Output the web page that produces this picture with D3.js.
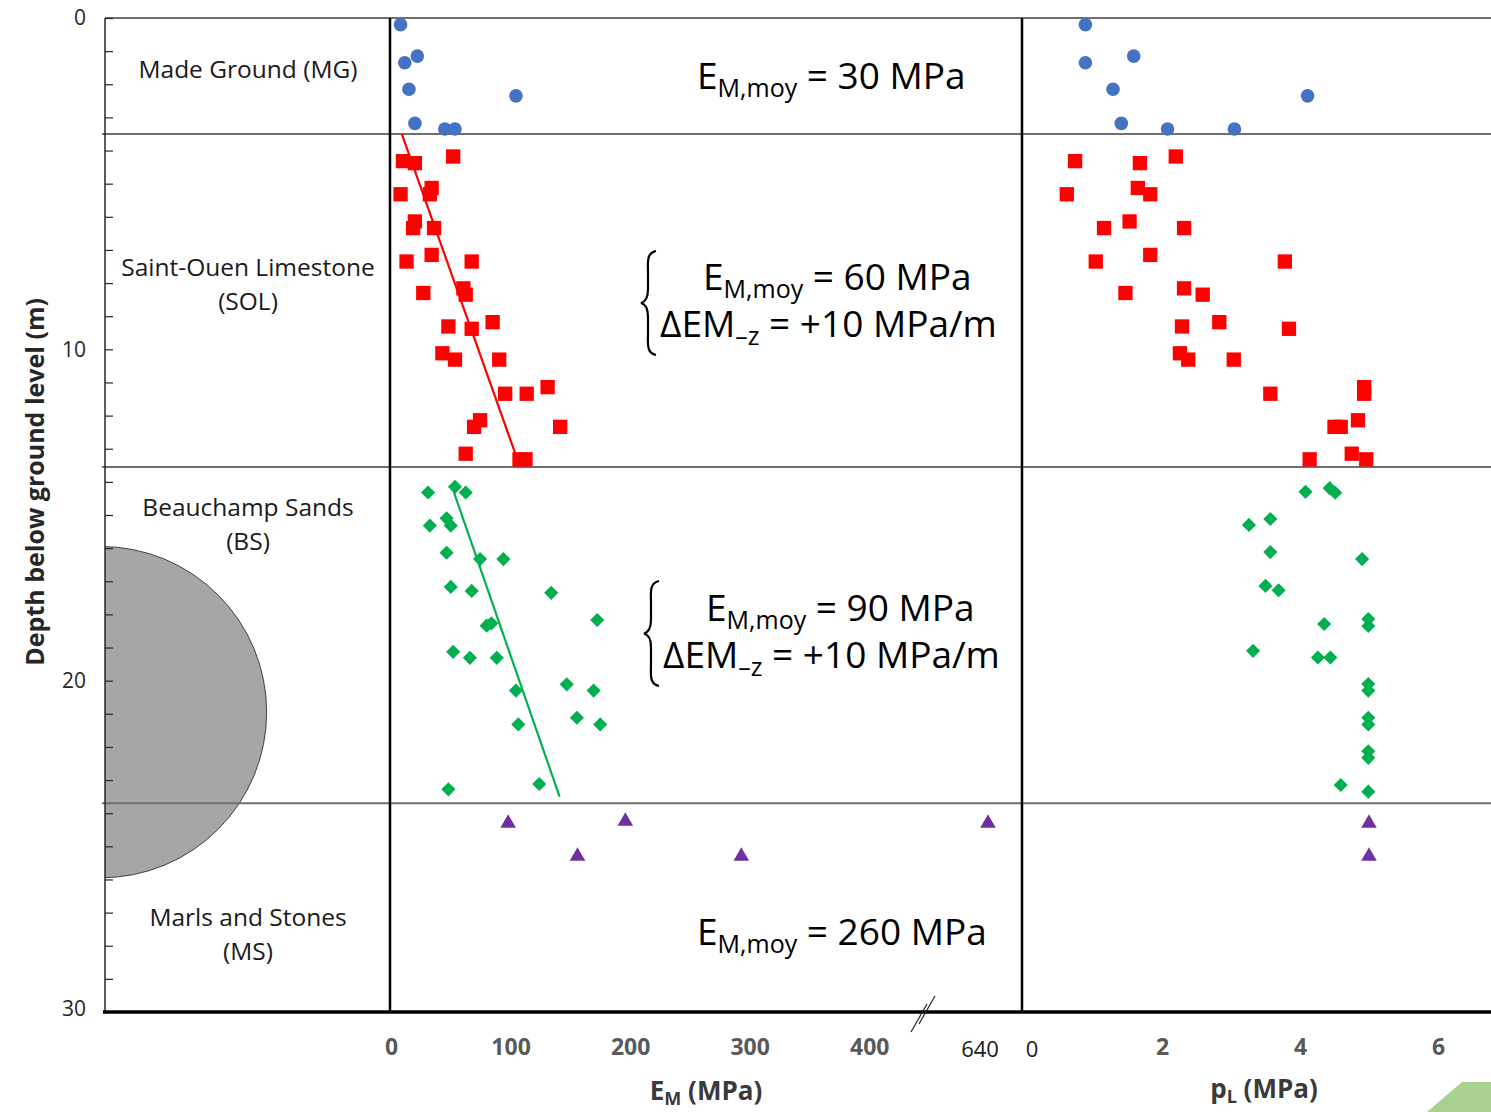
<!DOCTYPE html>
<html>
<head>
<meta charset="utf-8">
<script src="https://cdn.jsdelivr.net/npm/d3@7"></script>
<style>
  body { margin: 0; background: #fff; }
  text { font-family: "Open Sans", sans-serif; }
</style>
</head>
<body>
<svg id="chart"></svg>
<script>
// depth (m) / EM (MPa) / pL (MPa)
const mgDepth = [0.2, 1.15, 1.35, 2.15, 2.35, 3.18, 3.35, 3.35]
const mgEM = [8, 22, 11.5, 15, 104.5, 20, 45, 53.5]
const mgPL = [0.89, 1.59, 0.89, 1.29, 4.11, 1.41, 2.08, 3.05]

const solDepth = [4.18, 4.32, 4.38, 5.13, 5.32, 5.32, 6.14, 6.34, 6.34, 7.15, 7.35, 7.35, 8.16, 8.3, 8.35,
    9.18, 9.31, 9.38, 10.12, 10.31, 10.31, 11.14, 11.34, 11.34, 12.14, 12.34, 12.34, 13.15, 13.32, 13.32]
const solEM = [52, 10, 20, 34, 8, 32.5, 20, 18.5, 36, 34, 13, 67.5, 60.5, 27, 62.5,
    85, 48, 67.5, 43, 53.5, 90.5, 131, 95.5, 113.5, 74.5, 69.5, 141.5, 62.5, 107.5, 112.5]
const solPL = [2.2, 0.74, 1.68, 1.65, 0.62, 1.83, 1.53, 1.16, 2.32, 1.83, 1.04, 3.78, 2.32, 1.47, 2.59,
    2.83, 2.29, 3.84, 2.26, 2.38, 3.04, 4.93, 3.57, 4.93, 4.84, 4.5, 4.59, 4.75, 4.14, 4.96]

const bsDepthEM = [14.15, 14.32, 14.32, 15.1, 15.32, 15.32, 16.14, 16.33, 16.33, 17.17, 17.29, 17.35, 18.17,
    18.27, 18.34, 19.13, 19.31, 19.31, 20.11, 20.3, 20.3, 21.12, 21.32, 21.32, 23.12, 23.28]
const bsEM = [53.5, 31, 62.5, 46.5, 32.5, 50, 46.5, 74.5, 94, 50, 67.5, 134, 172.5,
    84, 80, 52, 66, 88.5, 147, 104.5, 169.5, 155.5, 106.5, 175, 124, 48]
const bsDepthPL = [14.19, 14.3, 14.33, 15.12, 15.3, 16.12, 16.33, 17.14, 17.27, 18.14, 18.29, 18.35,
    19.1, 19.3, 19.3, 20.1, 20.3, 21.12, 21.32, 22.13, 22.33, 23.15, 23.35]
const bsPL = [4.43, 4.08, 4.51, 3.57, 3.26, 3.57, 4.9, 3.5, 3.69, 4.99, 4.35, 4.99,
    3.32, 4.26, 4.44, 4.99, 4.99, 4.99, 4.99, 4.99, 4.99, 4.59, 4.99]

const msDepthEM = [24.3, 24.24, 24.3, 25.3, 25.3]
const msEM = [98, 196, 640, 156, 293]
const msDepthPL = [24.3, 25.3]
const msPL = [5, 5]

const solTrendDepth = [3.5, 13.25]
const solTrendEM = [9, 105]
const bsTrendDepth = [14.3, 23.5]
const bsTrendEM = [52.5, 141]

const layerBounds = [3.5, 13.55, 23.7]
const depthLabels = [0, 10, 20, 30]
const emTicks = [0, 100, 200, 300, 400]
const emBreakTick = 640
const plTicks = [2, 4, 6]

const layerNames = [
    { lines: ["Made Ground (MG)"], y: 70 },
    { lines: ["Saint-Ouen Limestone", "(SOL)"], y: 268 },
    { lines: ["Beauchamp Sands", "(BS)"], y: 508 },
    { lines: ["Marls and Stones", "(MS)"], y: 918 }
]

const width = 1491
const height = 1112

const svg = d3.select("#chart").attr("width", width).attr("height", height)

const y = d3.scaleLinear().domain([0, 30]).range([18, 1012])
const xE = d3.scaleLinear().domain([0, 450, 640]).range([391, 929, 988])
const xP = d3.scaleLinear().domain([0, 6]).range([1024, 1438])

const leftX = 105

// tunnel section
svg.append("clipPath").attr("id", "clip")
    .append("rect").attr("x", leftX).attr("y", 0).attr("width", width).attr("height", height)

svg.append("circle")
    .attr("cx", leftX - 4)
    .attr("cy", y(20.95))
    .attr("r", y(5) - y(0))
    .attr("fill", "#a6a6a6")
    .attr("stroke", "#404040")
    .attr("stroke-width", 1)
    .attr("clip-path", "url(#clip)")

// frame lines
svg.append("line")
    .attr("x1", leftX).attr("x2", width).attr("y1", y(0)).attr("y2", y(0))
    .attr("stroke", "#404040").attr("stroke-width", 1.5)

svg.selectAll(".layer")
    .data(layerBounds)
    .enter()
    .append("line")
    .attr("class", "layer")
    .attr("x1", leftX - 3).attr("x2", width)
    .attr("y1", d => y(d)).attr("y2", d => y(d))
    .attr("stroke", "#6f6f6f").attr("stroke-width", 2)

svg.append("line")
    .attr("x1", leftX).attr("x2", leftX).attr("y1", y(0)).attr("y2", y(30))
    .attr("stroke", "#262626").attr("stroke-width", 1.5)

let yAxis = d3.axisLeft(y)
    .tickValues(d3.range(0, 31))
    .tickSizeInner(-8)
    .tickSizeOuter(0)
    .tickPadding(19)
    .tickFormat(d => depthLabels.includes(d) ? d : "")

let yAxisG = svg.append("g")
    .attr("transform", "translate(" + leftX + ",0)")
    .call(yAxis)
yAxisG.select(".domain").remove()
yAxisG.selectAll("line").attr("stroke", "#262626").attr("stroke-width", 1.2)
yAxisG.selectAll("text")
    .style("font-family", "Open Sans")
    .style("font-size", "21px")
    .attr("fill", "#262626")
    .attr("dy", d => d === 30 ? "0.15em" : "0.32em")

svg.append("text")
    .attr("transform", "translate(44," + y(14) + ") rotate(-90)")
    .attr("text-anchor", "middle")
    .style("font-size", "25px")
    .style("font-weight", "bold")
    .attr("fill", "#262626")
    .text("Depth below ground level (m)")

// panel axes
svg.append("line")
    .attr("x1", xE(0) - 1).attr("x2", xE(0) - 1).attr("y1", y(0)).attr("y2", y(30))
    .attr("stroke", "#000").attr("stroke-width", 2.5)
svg.append("line")
    .attr("x1", xP(0) - 2).attr("x2", xP(0) - 2).attr("y1", y(0)).attr("y2", y(30))
    .attr("stroke", "#000").attr("stroke-width", 2.5)

svg.append("line")
    .attr("x1", leftX - 2).attr("x2", width).attr("y1", y(30)).attr("y2", y(30))
    .attr("stroke", "#000").attr("stroke-width", 3.5)

let emAxis = d3.axisBottom(xE).tickValues(emTicks).tickSize(0).tickPadding(27)
let emAxisG = svg.append("g").attr("transform", "translate(0," + y(30) + ")").call(emAxis)
emAxisG.select(".domain").remove()
emAxisG.selectAll("text")
    .style("font-family", "Open Sans").style("font-size", "23px").style("font-weight", "bold")
    .attr("fill", "#595959")

svg.append("text")
    .attr("x", xE(emBreakTick) - 8).attr("y", 1057)
    .attr("text-anchor", "middle")
    .style("font-size", "22px").attr("fill", "#1a1a1a")
    .text(emBreakTick)

let plAxis = d3.axisBottom(xP).tickValues(plTicks).tickSize(0).tickPadding(27).tickFormat(d3.format("d"))
let plAxisG = svg.append("g").attr("transform", "translate(0," + y(30) + ")").call(plAxis)
plAxisG.select(".domain").remove()
plAxisG.selectAll("text")
    .style("font-family", "Open Sans").style("font-size", "23px").style("font-weight", "bold")
    .attr("fill", "#595959")

svg.append("text")
    .attr("x", xP(0) + 8).attr("y", 1057)
    .attr("text-anchor", "middle")
    .style("font-size", "22px").attr("fill", "#1a1a1a")
    .text("0")

// axis break
const bx = xE(450)
svg.append("g")
    .selectAll("line")
    .data([-4, 4])
    .enter()
    .append("line")
    .attr("x1", d => bx - 14 + d).attr("y1", d => 1028 - d)
    .attr("x2", d => bx + 2 + d).attr("y2", d => 1000 - d)
    .attr("stroke", "#262626").attr("stroke-width", 1.2)

// axis titles
const emTitle = svg.append("text")
    .attr("x", 706).attr("y", 1100)
    .attr("text-anchor", "middle")
    .style("font-size", "26px").style("font-weight", "bold").attr("fill", "#3a3a3a")
emTitle.append("tspan").text("E")
emTitle.append("tspan").attr("dy", 5).style("font-size", "18px").text("M")
emTitle.append("tspan").attr("dy", -5).text(" (MPa)")

const plTitle = svg.append("text")
    .attr("x", 1264).attr("y", 1098)
    .attr("text-anchor", "middle")
    .style("font-size", "26px").style("font-weight", "bold").attr("fill", "#3a3a3a")
plTitle.append("tspan").text("p")
plTitle.append("tspan").attr("dy", 5).style("font-size", "18px").text("L")
plTitle.append("tspan").attr("dy", -5).text(" (MPa)")

// layer names
layerNames.forEach(layer => {
    layer.lines.forEach((line, i) => {
        svg.append("text")
            .attr("x", 248).attr("y", layer.y + 8 + i * 34)
            .attr("text-anchor", "middle")
            .style("font-size", "24.5px").attr("fill", "#1a1a1a")
            .text(line)
    })
})

// annotations
const emMoy = (x, baseline, value) => {
    let t = svg.append("text").attr("x", x).attr("y", baseline)
        .style("font-size", "37px").attr("fill", "#000")
    t.append("tspan").text("E")
    t.append("tspan").attr("dy", 8).style("font-size", "25px").text("M,moy")
    t.append("tspan").attr("dy", -8).text(" = " + value + " MPa")
}

const gradient = (x, baseline) => {
    let t = svg.append("text").attr("x", x).attr("y", baseline)
        .style("font-size", "37px").attr("fill", "#000")
    t.append("tspan").text("\u0394EM")
    t.append("tspan").attr("dy", 8).style("font-size", "25px").text("\u2013z")
    t.append("tspan").attr("dy", -8).text(" = +10 MPa/m")
}

const brace = (x, top, bottom) => {
    let mid = (top + bottom) / 2
    let p = d3.path()
    p.moveTo(x + 14, top)
    p.bezierCurveTo(x + 4, top + 2, x + 6, top + 12, x + 6, top + 22)
    p.lineTo(x + 6, mid - 14)
    p.bezierCurveTo(x + 6, mid - 6, x + 3, mid - 1, x - 1, mid)
    p.bezierCurveTo(x + 3, mid + 1, x + 6, mid + 6, x + 6, mid + 14)
    p.lineTo(x + 6, bottom - 22)
    p.bezierCurveTo(x + 6, bottom - 12, x + 4, bottom - 2, x + 14, bottom)
    svg.append("path").attr("d", p.toString())
        .attr("fill", "none").attr("stroke", "#000").attr("stroke-width", 2.2)
}

emMoy(697, 89, 30)
brace(642, 251, 355)
emMoy(703, 290, 60)
gradient(660, 337)
brace(645, 581, 686)
emMoy(706, 621, 90)
gradient(663, 668)
emMoy(697, 945, 260)

// markers
const symbols = {
    circle: d3.symbol().type(d3.symbolCircle).size(145),
    square: d3.symbol().type(d3.symbolSquare).size(205),
    diamond: d3.symbol().type(d3.symbolSquare).size(100),
    triangle: d3.symbol().type(d3.symbolTriangle).size(105)
}

const drawPoints = (depths, values, xScale, shape, color) => {
    svg.append("g")
        .selectAll("path")
        .data(depths)
        .enter()
        .append("path")
        .attr("transform", (d, i) => "translate(" + xScale(values[i]) + "," + y(d) + ")" + (shape === "diamond" ? " rotate(45)" : ""))
        .attr("d", symbols[shape]())
        .attr("fill", color)
}

drawPoints(mgDepth, mgEM, xE, "circle", "#4472c4")
drawPoints(mgDepth, mgPL, xP, "circle", "#4472c4")
drawPoints(solDepth, solEM, xE, "square", "#ff0000")
drawPoints(solDepth, solPL, xP, "square", "#ff0000")
drawPoints(bsDepthEM, bsEM, xE, "diamond", "#00b050")
drawPoints(bsDepthPL, bsPL, xP, "diamond", "#00b050")
drawPoints(msDepthEM, msEM, xE, "triangle", "#7030a0")
drawPoints(msDepthPL, msPL, xP, "triangle", "#7030a0")

// trend lines
const trend = d3.line().x(d => xE(d[1])).y(d => y(d[0]))
svg.append("path")
    .attr("d", trend(d3.zip(solTrendDepth, solTrendEM)))
    .attr("stroke", "#ff0000").attr("stroke-width", 2.2).attr("fill", "none")
svg.append("path")
    .attr("d", trend(d3.zip(bsTrendDepth, bsTrendEM)))
    .attr("stroke", "#00b050").attr("stroke-width", 2.2).attr("fill", "none")

// corner decoration
svg.append("path")
    .attr("d", "M1427,1112 L1462,1082 L1491,1082 L1491,1112 Z")
    .attr("fill", "#a9d18e")
</script>
</body>
</html>
